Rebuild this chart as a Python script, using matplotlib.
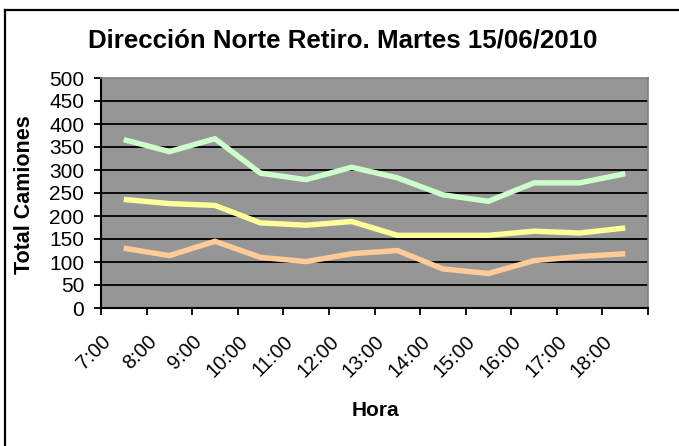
import matplotlib
matplotlib.use("Agg")
import matplotlib.pyplot as plt
from matplotlib.lines import Line2D
import numpy as np

horas = ["7:00", "8:00", "9:00", "10:00", "11:00", "12:00", "13:00",
         "14:00", "15:00", "16:00", "17:00", "18:00"]
serie_verde = [366, 340, 368, 293, 279, 306, 283, 246, 232, 272, 272, 292]
serie_amarilla = [236, 227, 223, 185, 180, 188, 158, 158, 158, 167, 163, 174]
serie_naranja = [130, 114, 145, 110, 101, 118, 125, 85, 75, 103, 112, 118]
yticks = list(range(0, 501, 50))

plt.rcParams['font.family'] = ['Liberation Sans', 'DejaVu Sans']

W, H = 679, 446
fig = plt.figure(figsize=(W / 100, H / 100), dpi=100)
fig.patch.set_facecolor('white')

left, right, top, bottom = 101, 648, 78, 308
ax = fig.add_axes([left / W, 1 - bottom / H, (right - left) / W, (bottom - top) / H])
ax.set_facecolor('#969696')

x = np.arange(len(horas)) + 0.5
for vals, col in [(serie_verde, '#CCFFCC'), (serie_amarilla, '#FFFF99'), (serie_naranja, '#FFCC99')]:
    ax.plot(x, vals, color=col, lw=3.9, solid_capstyle='butt', solid_joinstyle='miter', zorder=3)

ax.set_xlim(0, len(horas))
ax.set_ylim(0, 500)
ax.set_yticks(yticks)
ax.set_yticklabels([str(v) for v in yticks], fontsize=15)
for v in yticks[1:-1]:
    ax.axhline(v, color='black', lw=1.3, zorder=2)

ax.set_xticks(np.arange(len(horas) + 1))
ax.set_xticklabels([])
ax.set_xticks(np.arange(len(horas)) + 0.15, labels=horas, minor=True)
ax.tick_params(axis='x', which='minor', length=0, pad=22, labelsize=14.5)
for lab in ax.get_xticklabels(minor=True):
    lab.set_rotation(45)
    lab.set_ha('right')
    lab.set_va('center')
    lab.set_rotation_mode('anchor')
ax.tick_params(axis='x', which='major', direction='out', length=5, width=1.3, color='black')
ax.tick_params(axis='y', direction='out', length=5, width=1.3, color='black', pad=7)

ax.spines['left'].set_color('black')
ax.spines['left'].set_linewidth(1.5)
ax.spines['bottom'].set_color('black')
ax.spines['bottom'].set_linewidth(1.5)
ax.spines['top'].set_color('#808080')
ax.spines['top'].set_linewidth(1.2)
ax.spines['right'].set_color('#808080')
ax.spines['right'].set_linewidth(1.2)

fig.text(343 / W, 1 - 41 / H, "Dirección Norte Retiro. Martes 15/06/2010",
         fontsize=18.6, fontweight='bold', ha='center', va='center')
fig.text(25 / W, 1 - 195 / H, "Total Camiones", fontsize=15.5, fontweight='bold',
         rotation=90, ha='center', va='center')
fig.text(375 / W, 1 - 411 / H, "Hora", fontsize=15, fontweight='bold',
         ha='center', va='center')

fig.add_artist(Line2D([5 / W, 5 / W], [0, 1 - 10 / H], transform=fig.transFigure,
                      color='black', lw=1.6))
fig.add_artist(Line2D([5 / W, 1], [1 - 10 / H, 1 - 10 / H], transform=fig.transFigure,
                      color='black', lw=1.6))

fig.savefig("out.png", dpi=100, facecolor='white')
